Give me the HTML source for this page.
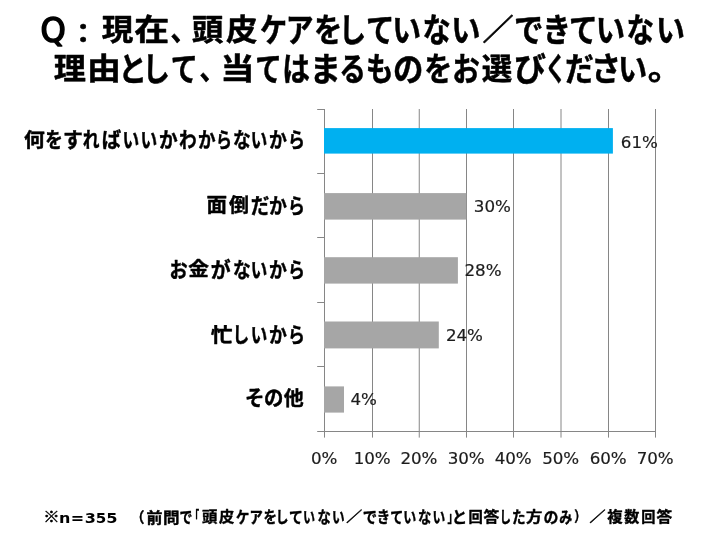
<!DOCTYPE html>
<html lang="ja"><head><meta charset="utf-8"><title>頭皮ケアをしていない理由</title>
<style>
html,body{margin:0;padding:0;background:#fff;}
svg{display:block;will-change:transform;}
text{white-space:pre;stroke-linejoin:round;}
.t{font-family:"Noto Sans CJK JP","Liberation Sans",sans-serif;font-weight:700;fill:#000;}
.tt{stroke:#000;stroke-width:0.5px;}
.tl{stroke:#000;stroke-width:0.45px;}
.tf{stroke:#000;stroke-width:0.4px;}
.lb{stroke:none;font-family:"DejaVu Sans","Liberation Sans",sans-serif;font-weight:700;fill:#000;}
.q{font-family:"DejaVu Sans","Liberation Sans",sans-serif;font-weight:400;fill:#000;stroke:#000;stroke-width:1.6px;stroke-linejoin:round;}
.n{font-family:"DejaVu Sans","Liberation Sans",sans-serif;fill:#1c1c1c;stroke:#1c1c1c;stroke-width:0.2px;}
</style></head><body>
<svg width="720" height="552" role="img" viewBox="0 0 720 552">
<title>Q：現在、頭皮ケアをしていない／できていない理由として、当てはまるものをお選びください。</title>
<desc>何をすればいいかわからないから 61%、面倒だから 30%、お金がないから 28%、忙しいから 24%、その他 4%。※n=355　（前問で「頭皮ケアをしていない／できていない」と回答した方のみ）／複数回答</desc>
<rect width="720" height="552" fill="#fff"/>
<g stroke="#868686" stroke-width="1" fill="none"><line x1="324.5" y1="109" x2="324.5" y2="437.6"/><line x1="372.5" y1="109" x2="372.5" y2="437.6"/><line x1="419.25" y1="109" x2="419.25" y2="437.6"/><line x1="466.5" y1="109" x2="466.5" y2="437.6"/><line x1="513.5" y1="109" x2="513.5" y2="437.6"/><line x1="561" y1="109" x2="561" y2="437.6"/><line x1="608.5" y1="109" x2="608.5" y2="437.6"/><line x1="655.5" y1="109" x2="655.5" y2="437.6"/><line x1="317.2" y1="431.5" x2="656" y2="431.5"/><line x1="317.2" y1="109.5" x2="324.5" y2="109.5"/><line x1="317.2" y1="173.5" x2="324.5" y2="173.5"/><line x1="317.2" y1="237.5" x2="324.5" y2="237.5"/><line x1="317.2" y1="302.5" x2="324.5" y2="302.5"/><line x1="317.2" y1="366.5" x2="324.5" y2="366.5"/></g>
<rect x="324" y="128.1" width="288.9" height="25.5" fill="#00b0f0"/>
<text class="n" font-size="16.7" x="620.83" y="147.9">61%</text>
<rect x="324" y="193.1" width="142.3" height="26.5" fill="#a6a6a6"/>
<text class="n" font-size="16.7" x="473.83" y="211.9">30%</text>
<rect x="324" y="257.2" width="133.9" height="26.4" fill="#a6a6a6"/>
<text class="n" font-size="16.7" x="464.48" y="275.9">28%</text>
<rect x="324" y="321.5" width="114.8" height="26.9" fill="#a6a6a6"/>
<text class="n" font-size="16.7" x="445.88" y="340.9">24%</text>
<rect x="324" y="386.4" width="20" height="26.2" fill="#a6a6a6"/>
<text class="n" font-size="16.7" x="350.38" y="404.9">4%</text>
<text class="n" font-size="16.7" text-anchor="middle" x="324.2" y="464">0%</text>
<text class="n" font-size="16.7" text-anchor="middle" x="372.2" y="464">10%</text>
<text class="n" font-size="16.7" text-anchor="middle" x="418.95" y="464">20%</text>
<text class="n" font-size="16.7" text-anchor="middle" x="466.2" y="464">30%</text>
<text class="n" font-size="16.7" text-anchor="middle" x="513.2" y="464">40%</text>
<text class="n" font-size="16.7" text-anchor="middle" x="560.7" y="464">50%</text>
<text class="n" font-size="16.7" text-anchor="middle" x="608.2" y="464">60%</text>
<text class="n" font-size="16.7" text-anchor="middle" x="655.2" y="464">70%</text>
<text class="t tt" font-size="30" y="40.2"><tspan class="q" font-size="34.5" y="42.3" x="40.39" textLength="25.31" lengthAdjust="spacingAndGlyphs">Q</tspan><tspan font-size="27" y="42.6" x="68.98" textLength="28.35" lengthAdjust="spacingAndGlyphs">：</tspan><tspan y="40.2" x="101.71" textLength="31.54" lengthAdjust="spacingAndGlyphs">現</tspan><tspan x="134.15" textLength="34.96" lengthAdjust="spacingAndGlyphs">在</tspan><tspan x="170.61" textLength="26.09" lengthAdjust="spacingAndGlyphs">、</tspan><tspan x="191.87" textLength="31.5" lengthAdjust="spacingAndGlyphs">頭</tspan><tspan x="226.05" textLength="31.55" lengthAdjust="spacingAndGlyphs">皮</tspan><tspan font-size="32.4" y="42" x="260.01" textLength="27.13" lengthAdjust="spacingAndGlyphs">ケ</tspan><tspan font-size="32.4" x="285.71" textLength="27.79" lengthAdjust="spacingAndGlyphs">ア</tspan><tspan font-size="32.4" x="313.94" textLength="28.28" lengthAdjust="spacingAndGlyphs">を</tspan><tspan font-size="32.4" x="338.69" textLength="27.44" lengthAdjust="spacingAndGlyphs">し</tspan><tspan font-size="32.4" x="366.04" textLength="28.38" lengthAdjust="spacingAndGlyphs">て</tspan><tspan font-size="32.4" x="392.29" textLength="28.83" lengthAdjust="spacingAndGlyphs">い</tspan><tspan font-size="32.4" x="422.61" textLength="28.28" lengthAdjust="spacingAndGlyphs">な</tspan><tspan font-size="32.4" x="451.36" textLength="29.19" lengthAdjust="spacingAndGlyphs">い</tspan><tspan y="40.2" x="482.48" textLength="31.14" lengthAdjust="spacingAndGlyphs">／</tspan><tspan font-size="32.4" y="42" x="514.12" textLength="29.41" lengthAdjust="spacingAndGlyphs">で</tspan><tspan font-size="32.4" x="542.49" textLength="28.49" lengthAdjust="spacingAndGlyphs">き</tspan><tspan font-size="32.4" x="569.12" textLength="28.62" lengthAdjust="spacingAndGlyphs">て</tspan><tspan font-size="32.4" x="595.74" textLength="29.31" lengthAdjust="spacingAndGlyphs">い</tspan><tspan font-size="32.4" x="626.56" textLength="27.6" lengthAdjust="spacingAndGlyphs">な</tspan><tspan font-size="32.4" x="656.08" textLength="28.95" lengthAdjust="spacingAndGlyphs">い</tspan></text>
<text class="t tt" font-size="30" y="79.2"><tspan x="53.68" textLength="32.18" lengthAdjust="spacingAndGlyphs">理</tspan><tspan x="87.12" textLength="33.92" lengthAdjust="spacingAndGlyphs">由</tspan><tspan font-size="32.4" y="81" x="118.6" textLength="28.38" lengthAdjust="spacingAndGlyphs">と</tspan><tspan font-size="32.4" x="142.59" textLength="27.44" lengthAdjust="spacingAndGlyphs">し</tspan><tspan font-size="32.4" x="170.83" textLength="27.03" lengthAdjust="spacingAndGlyphs">て</tspan><tspan y="79.2" x="199.52" textLength="25.78" lengthAdjust="spacingAndGlyphs">、</tspan><tspan x="220.22" textLength="34.21" lengthAdjust="spacingAndGlyphs">当</tspan><tspan font-size="32.4" y="81" x="255.37" textLength="26.54" lengthAdjust="spacingAndGlyphs">て</tspan><tspan font-size="32.4" x="282.34" textLength="27.72" lengthAdjust="spacingAndGlyphs">は</tspan><tspan font-size="32.4" x="309.86" textLength="31.23" lengthAdjust="spacingAndGlyphs">ま</tspan><tspan font-size="32.4" x="339.3" textLength="26.71" lengthAdjust="spacingAndGlyphs">る</tspan><tspan font-size="32.4" x="365.71" textLength="27.85" lengthAdjust="spacingAndGlyphs">も</tspan><tspan font-size="32.4" x="393.01" textLength="30.36" lengthAdjust="spacingAndGlyphs">の</tspan><tspan font-size="32.4" x="424.16" textLength="28.04" lengthAdjust="spacingAndGlyphs">を</tspan><tspan font-size="32.4" x="452.22" textLength="27.54" lengthAdjust="spacingAndGlyphs">お</tspan><tspan y="79.2" x="481.78" textLength="30.51" lengthAdjust="spacingAndGlyphs">選</tspan><tspan font-size="32.4" y="81" x="514.04" textLength="31.95" lengthAdjust="spacingAndGlyphs">び</tspan><tspan font-size="32.4" x="545.04" textLength="21.42" lengthAdjust="spacingAndGlyphs">く</tspan><tspan font-size="32.4" x="564.98" textLength="28.84" lengthAdjust="spacingAndGlyphs">だ</tspan><tspan font-size="32.4" x="591.3" textLength="29.73" lengthAdjust="spacingAndGlyphs">さ</tspan><tspan font-size="32.4" x="618.06" textLength="29.19" lengthAdjust="spacingAndGlyphs">い</tspan><tspan y="79.2" x="647.74" textLength="34.67" lengthAdjust="spacingAndGlyphs">。</tspan></text>
<text class="t tl" font-size="19.4" y="146.5"><tspan x="24.03" textLength="20.75" lengthAdjust="spacingAndGlyphs">何</tspan><tspan font-size="20.95" y="147.08" x="45.18" textLength="17.51" lengthAdjust="spacingAndGlyphs">を</tspan><tspan font-size="20.95" x="62.97" textLength="19.89" lengthAdjust="spacingAndGlyphs">す</tspan><tspan font-size="20.95" x="82.74" textLength="16.76" lengthAdjust="spacingAndGlyphs">れ</tspan><tspan font-size="20.95" x="101.65" textLength="19.36" lengthAdjust="spacingAndGlyphs">ば</tspan><tspan font-size="20.95" x="122.51" textLength="16.69" lengthAdjust="spacingAndGlyphs">い</tspan><tspan font-size="20.95" x="140.46" textLength="16.69" lengthAdjust="spacingAndGlyphs">い</tspan><tspan font-size="20.95" x="159.08" textLength="18.63" lengthAdjust="spacingAndGlyphs">か</tspan><tspan font-size="20.95" x="179" textLength="17.68" lengthAdjust="spacingAndGlyphs">わ</tspan><tspan font-size="20.95" x="198.04" textLength="17.55" lengthAdjust="spacingAndGlyphs">か</tspan><tspan font-size="20.95" x="215.94" textLength="15.95" lengthAdjust="spacingAndGlyphs">ら</tspan><tspan font-size="20.95" x="232.97" textLength="17.7" lengthAdjust="spacingAndGlyphs">な</tspan><tspan font-size="20.95" x="250.68" textLength="16.51" lengthAdjust="spacingAndGlyphs">い</tspan><tspan font-size="20.95" x="268.92" textLength="17.87" lengthAdjust="spacingAndGlyphs">か</tspan><tspan font-size="20.95" x="288.09" textLength="16.92" lengthAdjust="spacingAndGlyphs">ら</tspan></text>
<text class="t tl" font-size="19.4" y="212.3"><tspan x="206.6" textLength="20.52" lengthAdjust="spacingAndGlyphs">面</tspan><tspan x="229.04" textLength="19.94" lengthAdjust="spacingAndGlyphs">倒</tspan><tspan font-size="20.95" y="212.88" x="250.69" textLength="18.67" lengthAdjust="spacingAndGlyphs">だ</tspan><tspan font-size="20.95" x="268.92" textLength="17.87" lengthAdjust="spacingAndGlyphs">か</tspan><tspan font-size="20.95" x="288.09" textLength="16.92" lengthAdjust="spacingAndGlyphs">ら</tspan></text>
<text class="t tl" font-size="19.4" y="276.4"><tspan font-size="20.95" y="276.98" x="169.46" textLength="18.12" lengthAdjust="spacingAndGlyphs">お</tspan><tspan y="276.4" x="188.37" textLength="20.68" lengthAdjust="spacingAndGlyphs">金</tspan><tspan font-size="20.95" y="276.98" x="210.8" textLength="19.87" lengthAdjust="spacingAndGlyphs">が</tspan><tspan font-size="20.95" x="232.97" textLength="17.7" lengthAdjust="spacingAndGlyphs">な</tspan><tspan font-size="20.95" x="250.68" textLength="16.51" lengthAdjust="spacingAndGlyphs">い</tspan><tspan font-size="20.95" x="268.92" textLength="17.87" lengthAdjust="spacingAndGlyphs">か</tspan><tspan font-size="20.95" x="288.09" textLength="16.92" lengthAdjust="spacingAndGlyphs">ら</tspan></text>
<text class="t tl" font-size="19.4" y="341.8"><tspan x="210.89" textLength="21.74" lengthAdjust="spacingAndGlyphs">忙</tspan><tspan font-size="20.95" y="342.38" x="232.41" textLength="16.76" lengthAdjust="spacingAndGlyphs">し</tspan><tspan font-size="20.95" x="250.68" textLength="16.51" lengthAdjust="spacingAndGlyphs">い</tspan><tspan font-size="20.95" x="268.92" textLength="17.87" lengthAdjust="spacingAndGlyphs">か</tspan><tspan font-size="20.95" x="288.09" textLength="16.92" lengthAdjust="spacingAndGlyphs">ら</tspan></text>
<text class="t tl" font-size="19.4" y="404.7"><tspan font-size="20.95" y="405.28" x="245.1" textLength="19.41" lengthAdjust="spacingAndGlyphs">そ</tspan><tspan font-size="20.95" x="264.08" textLength="19.41" lengthAdjust="spacingAndGlyphs">の</tspan><tspan y="404.7" x="283.65" textLength="19.93" lengthAdjust="spacingAndGlyphs">他</tspan></text>
<text class="t tf" font-size="14.4" y="522.1"><tspan x="43.21" textLength="16.39" lengthAdjust="spacingAndGlyphs">※</tspan><tspan class="lb" font-size="14.6" y="522.5" x="58.96" textLength="11.39" lengthAdjust="spacingAndGlyphs">n</tspan><tspan class="lb" font-size="14.6" x="70.81" textLength="13.39" lengthAdjust="spacingAndGlyphs">=</tspan><tspan class="lb" font-size="14.6" x="84.83" textLength="11.15" lengthAdjust="spacingAndGlyphs">3</tspan><tspan class="lb" font-size="14.6" x="95.83" textLength="10.52" lengthAdjust="spacingAndGlyphs">5</tspan><tspan class="lb" font-size="14.6" x="106.25" textLength="11.28" lengthAdjust="spacingAndGlyphs">5</tspan><tspan x="120">　</tspan><tspan x="130.82" textLength="13.7" lengthAdjust="spacingAndGlyphs">（</tspan><tspan x="146.48" textLength="15.93" lengthAdjust="spacingAndGlyphs">前</tspan><tspan x="163.08" textLength="16.53" lengthAdjust="spacingAndGlyphs">問</tspan><tspan font-size="15.55" y="522.53" x="179.61" textLength="12.92" lengthAdjust="spacingAndGlyphs">で</tspan><tspan y="522.1" x="190.54" textLength="8.64" lengthAdjust="spacingAndGlyphs">「</tspan><tspan x="202.07" textLength="15.38" lengthAdjust="spacingAndGlyphs">頭</tspan><tspan x="219.11" textLength="15.25" lengthAdjust="spacingAndGlyphs">皮</tspan><tspan font-size="15.55" y="522.53" x="236.04" textLength="13.39" lengthAdjust="spacingAndGlyphs">ケ</tspan><tspan font-size="15.55" x="249.6" textLength="13.3" lengthAdjust="spacingAndGlyphs">ア</tspan><tspan font-size="15.55" x="263.44" textLength="13.48" lengthAdjust="spacingAndGlyphs">を</tspan><tspan font-size="15.55" x="275.63" textLength="12.73" lengthAdjust="spacingAndGlyphs">し</tspan><tspan font-size="15.55" x="288.91" textLength="13.88" lengthAdjust="spacingAndGlyphs">て</tspan><tspan font-size="15.55" x="303.12" textLength="12.08" lengthAdjust="spacingAndGlyphs">い</tspan><tspan font-size="15.55" x="317.43" textLength="13.35" lengthAdjust="spacingAndGlyphs">な</tspan><tspan font-size="15.55" x="331.96" textLength="12.68" lengthAdjust="spacingAndGlyphs">い</tspan><tspan y="522.1" x="346.15" textLength="16" lengthAdjust="spacingAndGlyphs">／</tspan><tspan font-size="15.55" y="522.53" x="362.81" textLength="14.3" lengthAdjust="spacingAndGlyphs">で</tspan><tspan font-size="15.55" x="376.86" textLength="13.28" lengthAdjust="spacingAndGlyphs">き</tspan><tspan font-size="15.55" x="390.18" textLength="13.02" lengthAdjust="spacingAndGlyphs">て</tspan><tspan font-size="15.55" x="403.32" textLength="13.04" lengthAdjust="spacingAndGlyphs">い</tspan><tspan font-size="15.55" x="417.93" textLength="13.35" lengthAdjust="spacingAndGlyphs">な</tspan><tspan font-size="15.55" x="432.44" textLength="12.8" lengthAdjust="spacingAndGlyphs">い</tspan><tspan y="522.1" x="447.4" textLength="10.54" lengthAdjust="spacingAndGlyphs">」</tspan><tspan font-size="15.55" y="522.53" x="451.65" textLength="15.45" lengthAdjust="spacingAndGlyphs">と</tspan><tspan y="522.1" x="468.38" textLength="14.32" lengthAdjust="spacingAndGlyphs">回</tspan><tspan x="483.47" textLength="15.75" lengthAdjust="spacingAndGlyphs">答</tspan><tspan font-size="15.55" y="522.53" x="499.85" textLength="11.17" lengthAdjust="spacingAndGlyphs">し</tspan><tspan font-size="15.55" x="512.1" textLength="13.51" lengthAdjust="spacingAndGlyphs">た</tspan><tspan y="522.1" x="526.13" textLength="16.32" lengthAdjust="spacingAndGlyphs">方</tspan><tspan font-size="15.55" y="522.53" x="543.44" textLength="14.95" lengthAdjust="spacingAndGlyphs">の</tspan><tspan font-size="15.55" x="559.25" textLength="12.97" lengthAdjust="spacingAndGlyphs">み</tspan><tspan y="522.1" x="574.36" textLength="11.99" lengthAdjust="spacingAndGlyphs">）</tspan><tspan x="589.55" textLength="16.1" lengthAdjust="spacingAndGlyphs">／</tspan><tspan x="607.35" textLength="15.36" lengthAdjust="spacingAndGlyphs">複</tspan><tspan x="624.38" textLength="15.1" lengthAdjust="spacingAndGlyphs">数</tspan><tspan x="641.29" textLength="14.2" lengthAdjust="spacingAndGlyphs">回</tspan><tspan x="656.57" textLength="15.64" lengthAdjust="spacingAndGlyphs">答</tspan></text>
</svg>
</body></html>
